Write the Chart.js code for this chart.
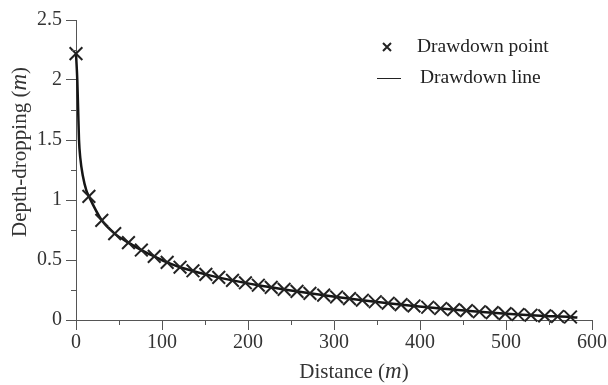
<!DOCTYPE html>
<html>
<head>
<meta charset="utf-8">
<script src="https://cdn.jsdelivr.net/npm/chart.js@4/dist/chart.umd.min.js"></script>
<style>
  html, body { margin: 0; padding: 0; background: #fff; }
  #wrap { width: 608px; height: 385px; }
</style>
</head>
<body>
<div id="wrap"><canvas id="drawdownChart" width="608" height="385"></canvas></div>
<script>
// measured drawdown points (distance in m, depth-dropping in m)
const pointDistance = [0, 15, 30, 45, 61, 76, 91, 106, 121, 136, 151, 166, 182, 197, 212, 227, 242, 257, 272, 288,
    303, 318, 333, 348, 363, 378, 393, 409, 424, 439, 454, 469, 484, 499, 514, 529, 545, 560, 575];
const pointDepth = [2.22, 1.03, 0.83, 0.72, 0.645, 0.583, 0.53, 0.48, 0.44, 0.41, 0.38, 0.355, 0.33, 0.31, 0.29, 0.272,
    0.255, 0.238, 0.222, 0.207, 0.192, 0.178, 0.165, 0.152, 0.14, 0.128, 0.117, 0.106, 0.096, 0.087, 0.078, 0.069,
    0.061, 0.053, 0.046, 0.04, 0.034, 0.029, 0.025];

// fitted drawdown line
const lineDistance = [0, 1.5, 2.5, 3.5, 5, 8, 12, 15, 30, 45, 61, 76, 91, 106, 121, 151, 182, 212, 242, 272, 303,
    333, 363, 393, 424, 454, 484, 514, 545, 575, 583];
const lineDepth = [2.22, 2.0, 1.75, 1.5, 1.35, 1.2, 1.08, 1.03, 0.83, 0.72, 0.645, 0.583, 0.53, 0.48, 0.44, 0.38,
    0.33, 0.29, 0.255, 0.222, 0.192, 0.165, 0.14, 0.117, 0.096, 0.078, 0.061, 0.046, 0.034, 0.025, 0.02];

const xTicks = [0, 100, 200, 300, 400, 500, 600];
const yTicks = [0, 0.5, 1, 1.5, 2, 2.5];
const legendLabels = ['Drawdown point', 'Drawdown line'];

const serif = '"Liberation Serif", "Times New Roman", serif';
const axisGray = '#555';
const textGray = '#333';

// minor ticks, axis titles with italic m, and the in-plot legend
const decorPlugin = {
    id: 'decor',
    afterDraw(chart) {
        const ctx = chart.ctx;
        const xs = chart.scales.x, ys = chart.scales.y;
        const area = chart.chartArea;
        ctx.save();
        ctx.strokeStyle = axisGray;
        ctx.lineWidth = 1;
        ctx.beginPath();
        for (let v = 50; v < 600; v += 100) {
            const px = Math.round(xs.getPixelForValue(v)) + 0.5;
            ctx.moveTo(px, area.bottom);
            ctx.lineTo(px, area.bottom + 5);
        }
        for (let v = 0.25; v < 2.5; v += 0.5) {
            const py = Math.round(ys.getPixelForValue(v)) + 0.5;
            ctx.moveTo(area.left, py);
            ctx.lineTo(area.left - 5, py);
        }
        ctx.stroke();

        // axis titles
        ctx.fillStyle = textGray;
        ctx.textBaseline = 'middle';
        const drawTitle = (x, y, rot, parts) => {
            ctx.save();
            ctx.translate(x, y);
            ctx.rotate(rot);
            let total = 0;
            parts.forEach(p => { ctx.font = p[1]; total += ctx.measureText(p[0]).width; });
            let cx = -total / 2;
            ctx.textAlign = 'left';
            parts.forEach(p => { ctx.font = p[1]; ctx.fillText(p[0], cx, 0); cx += ctx.measureText(p[0]).width; });
            ctx.restore();
        };
        const normal = '21px ' + serif;
        const ital = 'italic 23px ' + serif;
        drawTitle(354, 372, 0, [['Distance ', normal], ['(', normal], ['m', ital], [')', normal]]);
        drawTitle(20, 152, -Math.PI / 2, [['Depth-dropping ', normal], ['(', normal], ['m', ital], [')', normal]]);

        // legend
        ctx.font = '19.5px ' + serif;
        ctx.textAlign = 'left';
        ctx.fillStyle = '#222';
        ctx.fillText(legendLabels[0], 417, 47);
        ctx.fillText(legendLabels[1], 420, 78);
        ctx.strokeStyle = '#222';
        ctx.lineWidth = 2;
        ctx.beginPath();
        ctx.moveTo(383, 43); ctx.lineTo(391, 51);
        ctx.moveTo(391, 43); ctx.lineTo(383, 51);
        ctx.stroke();
        ctx.lineWidth = 1;
        ctx.beginPath();
        ctx.moveTo(377, 78.5); ctx.lineTo(401, 78.5);
        ctx.stroke();
        ctx.restore();
    }
};

const ctx = document.getElementById('drawdownChart').getContext('2d');
new Chart(ctx, {
    type: 'scatter',
    data: {
        datasets: [{
            label: legendLabels[1],
            data: lineDistance.map((d, i) => ({ x: d, y: lineDepth[i] })),
            showLine: true,
            borderColor: '#151515',
            borderWidth: 2.5,
            pointRadius: 0,
            cubicInterpolationMode: 'monotone',
            clip: false,
            order: 2
        }, {
            label: legendLabels[0],
            data: pointDistance.map((d, i) => ({ x: d, y: pointDepth[i] })),
            showLine: false,
            pointStyle: 'crossRot',
            pointRadius: 9,
            borderColor: '#222',
            pointBorderWidth: 2,
            clip: false,
            order: 1
        }]
    },
    options: {
        responsive: false,
        animation: false,
        layout: { padding: { top: 20, right: 16, bottom: 0, left: 0 } },
        plugins: {
            legend: { display: false },
            tooltip: { enabled: false }
        },
        scales: {
            x: {
                type: 'linear',
                min: 0,
                max: 600,
                afterFit: s => { s.height = 65; },
                afterBuildTicks: s => { s.ticks = xTicks.map(v => ({ value: v })); },
                border: { display: true, color: axisGray, width: 1 },
                grid: { display: true, drawOnChartArea: false, drawTicks: true, tickLength: 10, color: axisGray },
                ticks: { color: textGray, font: { family: serif, size: 20 }, padding: 1, maxRotation: 0 }
            },
            y: {
                type: 'linear',
                min: 0,
                max: 2.5,
                afterFit: s => { s.width = 76; },
                afterBuildTicks: s => { s.ticks = yTicks.map(v => ({ value: v })); },
                border: { display: true, color: axisGray, width: 1 },
                grid: { display: true, drawOnChartArea: false, drawTicks: true, tickLength: 10, color: axisGray },
                ticks: { color: textGray, font: { family: serif, size: 20 }, padding: 4, callback: v => String(v) }
            }
        }
    },
    plugins: [decorPlugin]
});
</script>
</body>
</html>
